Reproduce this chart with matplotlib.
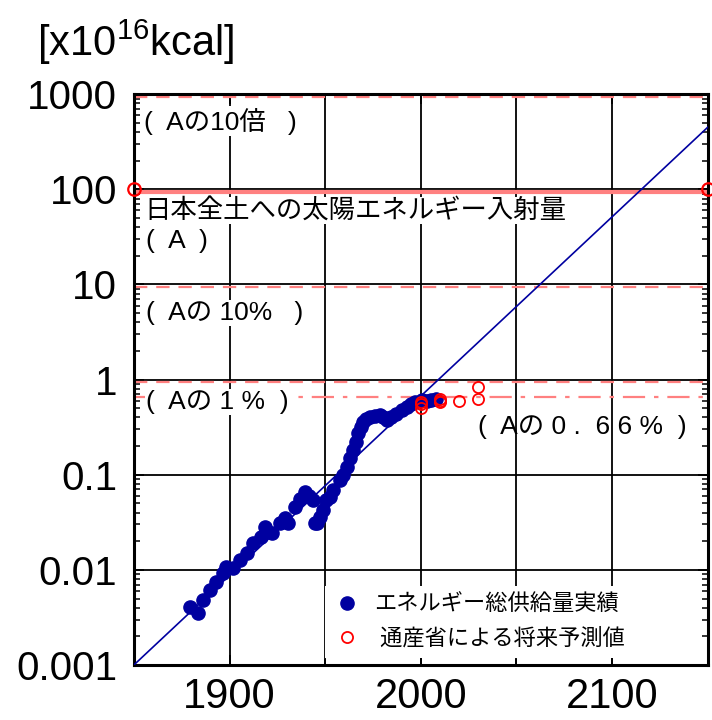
import matplotlib
matplotlib.use("Agg")
import matplotlib.pyplot as plt
import matplotlib.transforms as mtransforms

plt.rcParams['font.family'] = ['Liberation Sans', 'Noto Sans CJK JP', 'DejaVu Sans']
plt.rcParams['mathtext.fontset'] = 'custom'
plt.rcParams['mathtext.rm'] = 'Liberation Sans'

# actual total energy supply (blue dots)
actual_years = [1879.3, 1883.6, 1886.2, 1889.7, 1893.2, 1896.7, 1898.4, 1901.9, 1905.4, 1908.9,
                1912.4, 1916.7, 1918.5, 1922.0, 1926.3, 1928.9, 1930.7, 1934.2, 1936.8, 1939.4,
                1941.5, 1943.7, 1944.6, 1945.5, 1947.2, 1949.0, 1950.7, 1952.5, 1954.2, 1957.7,
                1959.5, 1961.2, 1963.0, 1964.7, 1966.0, 1967.3, 1968.6, 1969.9, 1971.5, 1973.4,
                1976.0, 1978.6, 1980.5, 1982.1, 1984.5, 1987.3, 1990.0, 1992.6, 1995.0, 1996.9,
                2000.4, 2003.0, 2005.5, 2008.0]
actual_vals = [0.0041, 0.0035, 0.0048, 0.0061, 0.0075, 0.0092, 0.0108, 0.0104, 0.0127, 0.0149,
               0.019, 0.0223, 0.0284, 0.0242, 0.031, 0.0347, 0.031, 0.046, 0.056, 0.066,
               0.060, 0.054, 0.031, 0.031, 0.036, 0.043, 0.054, 0.058, 0.069, 0.088,
               0.10, 0.121, 0.15, 0.181, 0.22, 0.272, 0.32, 0.36, 0.39, 0.406,
               0.415, 0.423, 0.40, 0.375, 0.40, 0.44, 0.48, 0.516, 0.55, 0.583,
               0.608, 0.60, 0.61, 0.62]

# MITI forecasts (red open circles)
forecast_years = [2000, 2000, 2000, 2010, 2010, 2010, 2020, 2030, 2030]
forecast_vals = [0.58, 0.55, 0.50, 0.63, 0.60, 0.58, 0.60, 0.83, 0.63]

# trend line
trend_years = [1850, 2150]
trend_vals = [0.001, 450]

# reference levels
solar_years = [1850, 2150]
solar_vals = [100, 100]
dashed_levels = [1000, 10, 1]
level_066 = 0.66

y_ticks = [0.001, 0.01, 0.1, 1, 10, 100, 1000]
y_tick_labels = ['0.001', '0.01', '0.1', '1', '10', '100', '1000']
x_ticks = [1900, 2000, 2100]
x_tick_labels = ['1900', '2000', '2100']
x_minor = [1950, 2050]

fig = plt.figure(figsize=(7.12, 7.2), dpi=100)
ax = fig.add_axes([0.188, 0.0764, 0.806, 0.7927])

ax.set_xlim(1850, 2150)
ax.set_ylim(0.001, 1000)
ax.set_yscale('log')

ax.set_yticks(y_ticks)
ax.set_yticklabels(y_tick_labels)
ax.set_xticks(x_ticks)
ax.set_xticklabels(x_tick_labels)
ax.set_xticks(x_minor, minor=True)

ax.grid(True, which='major', color='black', lw=1.3, zorder=1)
ax.grid(True, which='minor', axis='x', color='black', lw=1.3, zorder=1)
ax.set_axisbelow(True)

ax.tick_params(axis='both', which='major', direction='in', length=7, width=1.3,
               labelsize=29, top=True, right=True)
ax.tick_params(axis='y', which='major', pad=12)
ax.tick_params(axis='x', which='major', pad=9, labelsize=30)
ax.tick_params(axis='both', which='minor', direction='in', length=4, width=1.1,
               top=True, right=True)
for s in ax.spines.values():
    s.set_linewidth(2.2)

# red reference lines, shifted a couple of pixels below the black grid
shift = mtransforms.offset_copy(ax.transData, fig=fig, x=0, y=-2.5, units='dots')
x0, x1 = ax.get_xlim()
for lv in dashed_levels:
    ax.plot([x0, x1], [lv, lv], color='#ff8080', lw=1.6, ls=(0, (6, 4)),
            transform=shift, zorder=2, clip_on=False)
ax.plot([x0, x1], [level_066, level_066], color='#ff8080', lw=1.6,
        ls=(0, (10, 4, 2, 4)), zorder=2)
ax.plot(solar_years, solar_vals, color='#ff8080', lw=3, zorder=2, transform=shift)
ax.plot(solar_years, solar_vals, ls='none', marker='o', ms=9, mfc='none', mec='red',
        mew=1.6, clip_on=False, zorder=6)

ax.plot(trend_years, trend_vals, color='#0000a0', lw=1.2, zorder=3)

ax.plot(actual_years, actual_vals, ls='none', marker='o', ms=9.5, color='#0000a0',
        label='エネルギー総供給量実績', zorder=4)
ax.plot(forecast_years, forecast_vals, ls='none', marker='o', ms=8, mfc='none',
        mec='red', mew=1.3, label=' 通産省による将来予測値', zorder=5)

box = dict(facecolor='white', edgecolor='none', pad=1)
ax.text(1855.5, 520, '(  Aの10倍   )', fontsize=19, va='center', ha='left', bbox=box, zorder=3)
ax.text(1855.5, 60, '日本全土への太陽エネルギー入射量', fontsize=19, va='center', ha='left',
        bbox=box, zorder=3)
ax.text(1856.5, 29, '(  A  )', fontsize=19, va='center', ha='left', zorder=3)
ax.text(1856.5, 5.0, '(  Aの 10%   )', fontsize=19, va='center', ha='left', bbox=box, zorder=3)
ax.text(1856.5, 0.58, '(  Aの 1 %  )', fontsize=19, va='center', ha='left', bbox=box, zorder=3)
ax.text(2030, 0.32, '(  Aの 0 .  6 6 %  )', fontsize=19, va='center', ha='left', zorder=3)

leg = ax.legend(loc='lower right', bbox_to_anchor=(0.883, 0.0), fontsize=16, frameon=True,
                facecolor='white', edgecolor='none', framealpha=1, fancybox=False,
                borderaxespad=0.3, handletextpad=0.6, labelspacing=0.55, handlelength=1.2)
leg.set_zorder(6)

fig.text(0.052, 0.922, '[x10$^{16}$kcal]', fontsize=30, ha='left', va='baseline')

fig.savefig('out.png', dpi=100)
